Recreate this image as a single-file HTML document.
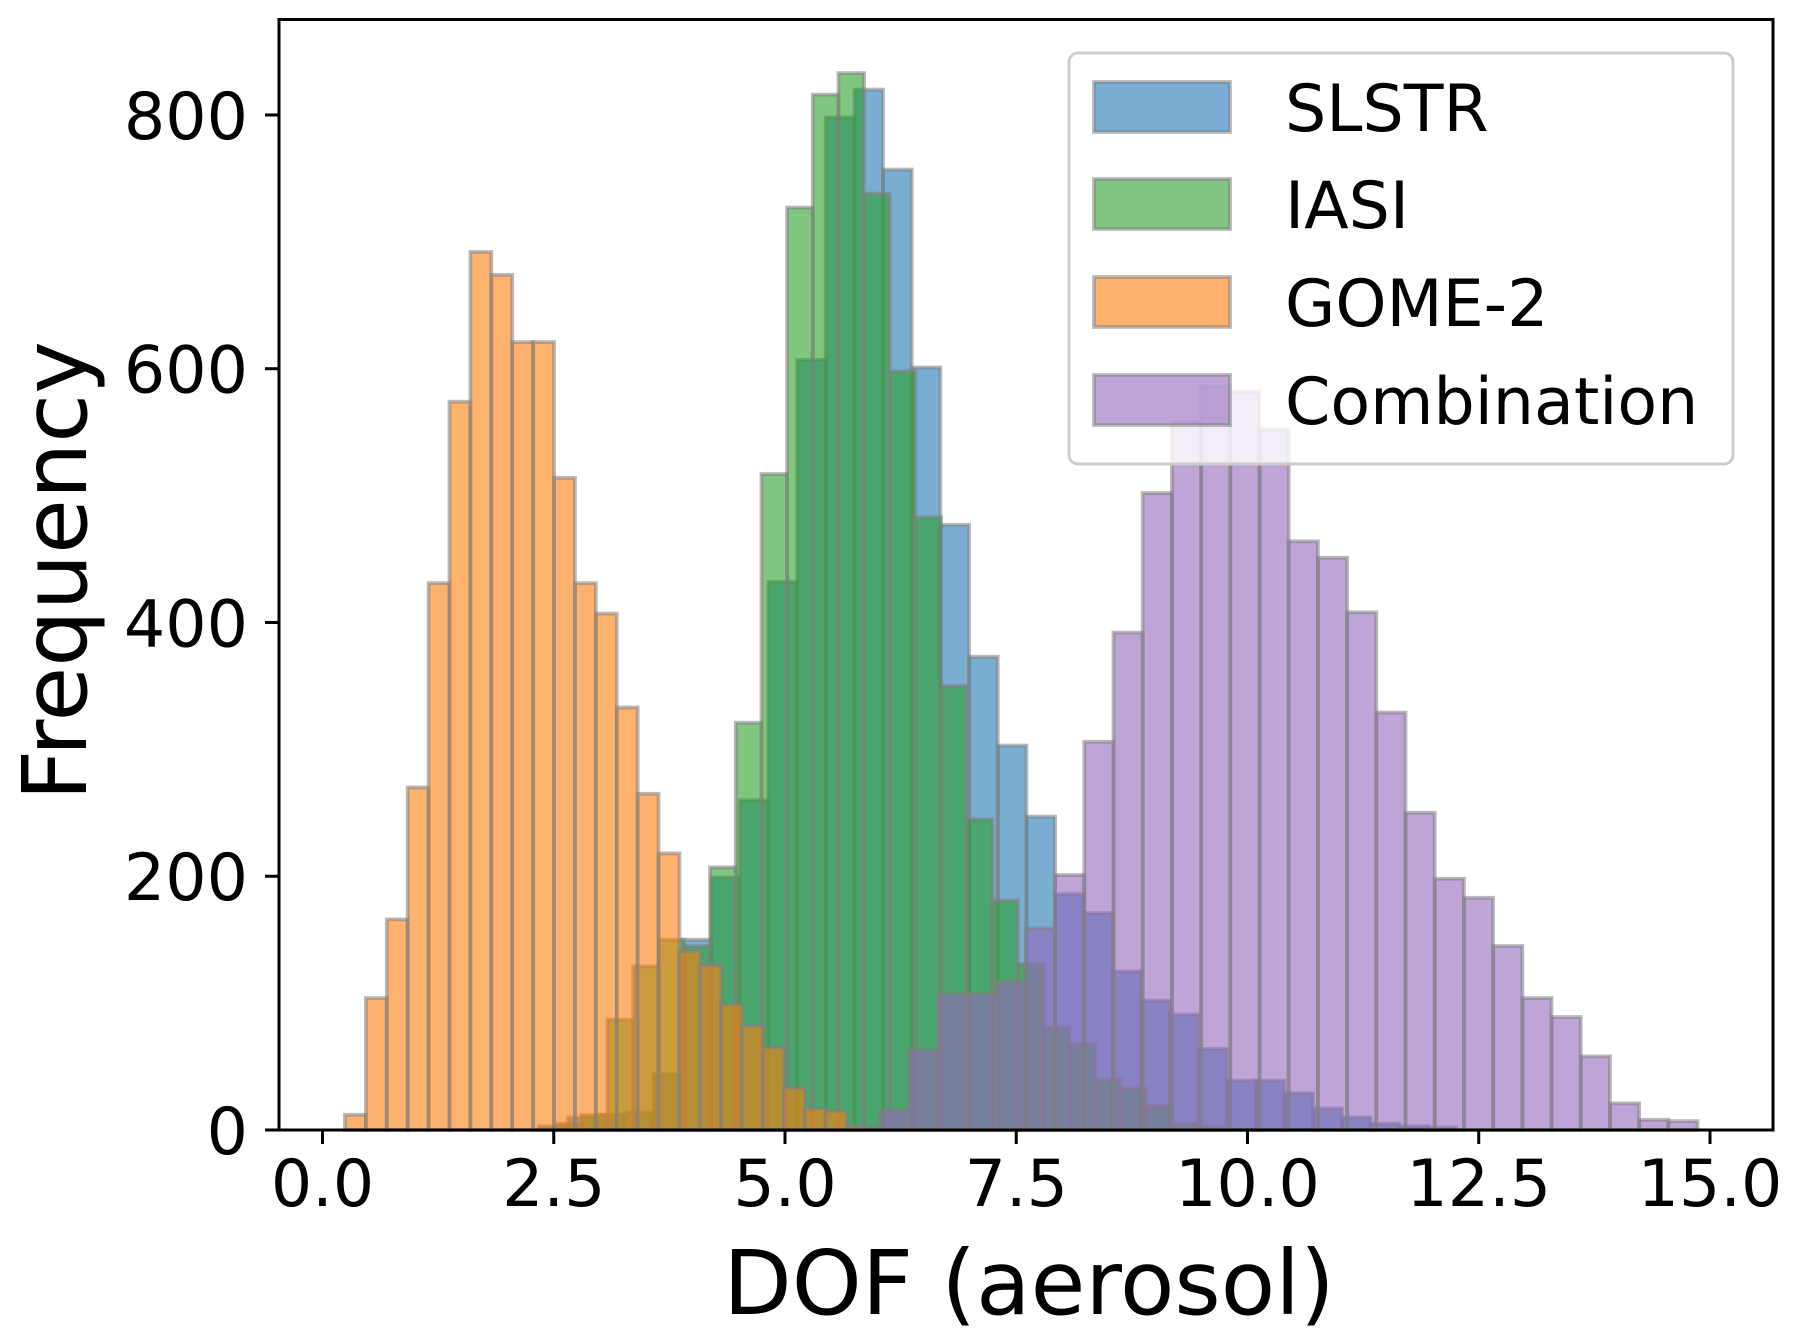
<!DOCTYPE html>
<html><head><meta charset="utf-8"><style>
html,body{margin:0;padding:0;background:#fff;}
svg{display:block;font-family:"DejaVu Sans","Liberation Sans",sans-serif;}
</style></head><body>
<svg id="chart" width="1798" height="1339" viewBox="0 0 1798 1339" xmlns="http://www.w3.org/2000/svg">
<rect x="0" y="0" width="1798" height="1339" fill="#fff"/>
<g id="bars"></g>
<g id="axes"></g>
<g id="legend"></g>
</svg>
<script>
const seriesNames = ["SLSTR","IASI","GOME-2","Combination"];
const seriesColors = ["#1f77b4","#2ca02c","#ff7f0e","#9467bd"];
const binStarts = [2.34, 2.525, 0.243, 5.71];
const binWidths = [0.31, 0.2775, 0.226, 0.3157];
const slstrCounts = [3,10,12,14,44,150,199,260,432,607,798,820,757,601,477,373,303,247,186,171,125,102,91,64,39,39,29,17,10,5,3,2];
const iasiCounts = [5,12,87,129,150,145,207,321,517,727,816,833,738,598,483,350,245,181,131,81,68,40,33,19,5,3];
const gomeCounts = [12,104,166,270,431,574,692,674,621,621,514,431,407,333,265,218,141,130,99,82,65,33,17,15,3];
const combCounts = [2,16,63,107,107,117,159,201,306,392,502,558,586,582,552,464,451,408,329,250,198,183,145,104,89,58,21,8,7];
const xTicks = [0,2.5,5,7.5,10,12.5,15];
const xTickLabels = ["0.0","2.5","5.0","7.5","10.0","12.5","15.0"];
const yTicks = [0,200,400,600,800];
const yTickLabels = ["0","200","400","600","800"];

const NS="http://www.w3.org/2000/svg";
const X0=322.5, XS=92.5, Y0=1130, YS=1.2688;
function xs(v){return X0+v*XS;}
function ys(c){return Y0-c*YS;}
function mk(tag,attrs,parent){const e=document.createElementNS(NS,tag);for(const k in attrs)e.setAttribute(k,attrs[k]);parent.appendChild(e);return e;}

const allCounts=[slstrCounts,iasiCounts,gomeCounts,combCounts];
const barsG=document.getElementById('bars');
allCounts.forEach((counts,si)=>{
  const g=mk('g',{},barsG);
  
  
  counts.forEach((c,i)=>{
    const a=binStarts[si]+i*binWidths[si], b=a+binWidths[si];
    const r=mk('rect',{x:xs(a),y:ys(c),width:xs(b)-xs(a),height:Y0-ys(c),fill:seriesColors[si],'fill-opacity':0.6,stroke:'#808080','stroke-opacity':0.55,'stroke-width':3.8},g);
    
    
  });
});

const ax=document.getElementById('axes');
const frame=mk('rect',{x:279,y:19.5,width:1494,height:1110.5,fill:'none',stroke:'#000','stroke-width':3},ax);


xTicks.forEach((v,i)=>{
  const t=mk('line',{x1:xs(v),x2:xs(v),y1:Y0,y2:Y0+14,stroke:'#000','stroke-width':3},ax);
  
  
  const l=mk('text',{x:xs(v),y:1206,'font-size':65,'text-anchor':'middle',fill:'#000'},ax);
  l.textContent=xTickLabels[i];
  
  
});
yTicks.forEach((v,i)=>{
  const t=mk('line',{x1:279,x2:265,y1:ys(v),y2:ys(v),stroke:'#000','stroke-width':3},ax);
  
  
  const l=mk('text',{x:248,y:ys(v)+24,'font-size':65,'text-anchor':'end',fill:'#000'},ax);
  l.textContent=yTickLabels[i];
  
  
});
const xl=mk('text',{x:1029,y:1314,'font-size':89,'text-anchor':'middle',fill:'#000'},ax);
xl.textContent='DOF (aerosol)';


const yl=mk('text',{x:0,y:0,'font-size':89,'text-anchor':'middle',fill:'#000',transform:'translate(86,571) rotate(-90)'},ax);
yl.textContent='Frequency';



const lg=document.getElementById('legend');
const box=mk('rect',{x:1069,y:53,width:664,height:411,rx:9,fill:'#fff','fill-opacity':0.8,stroke:'#cccccc','stroke-width':3},lg);


const rowY=[107,204,302,400];
seriesNames.forEach((n,i)=>{
  const g=mk('g',{},lg);
  
  
  const s=mk('rect',{x:1094,y:rowY[i]-25,width:136,height:50,fill:seriesColors[i],'fill-opacity':0.6,stroke:'#808080','stroke-opacity':0.55,'stroke-width':3.8},g);
  
  
  const t=mk('text',{x:1285,y:rowY[i]+24,'font-size':65,fill:'#000'},g);
  t.textContent=n;
  
  
});
</script>
</body></html>
